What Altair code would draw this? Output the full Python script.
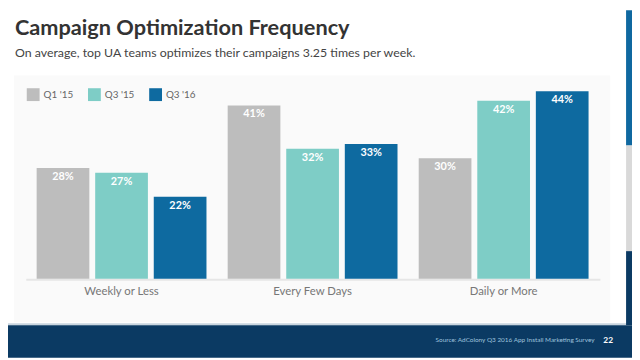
import altair as alt
import pandas as pd

categories = ["Weekly or Less", "Every Few Days", "Daily or More"]
series = ["Q1 '15", "Q3 '15", "Q3 '16"]
q1_15 = [28, 41, 30]
q3_15 = [27, 32, 42]
q3_16 = [22, 33, 44]
colors = ["#bdbdbd", "#7ecdc6", "#0e6aa0"]

title_text = "Campaign Optimization Frequency"
subtitle_text = "On average, top UA teams optimizes their campaigns 3.25 times per week."
source_text = "Source:  AdColony Q3 2016 App Install Marketing Survey"
page_text = "22"

rows = []
for s, vals in zip(series, [q1_15, q3_15, q3_16]):
    for c, v in zip(categories, vals):
        rows.append({"category": c, "series": s, "value": v, "label": f"{v}%"})
df = pd.DataFrame(rows)
cat_df = pd.DataFrame({"category": categories})

W, H = 632, 352
FONT = "Lato"

one = alt.Data(values=[{"k": 1}])


def rect(x, x2, y, y2, color):
    return alt.Chart(one).mark_rect(color=color).encode(
        x=alt.value(x), x2=alt.value(x2), y=alt.value(y), y2=alt.value(y2)
    )


def label(text, x, y, size, color, weight="normal", align="left", baseline="alphabetic"):
    return alt.Chart(one).mark_text(
        text=text, font=FONT, fontSize=size, color=color, fontWeight=weight,
        align=align, baseline=baseline
    ).encode(x=alt.value(x), y=alt.value(y))


xscale = alt.Scale(domain=categories, range=[29, 588], paddingInner=0.111, paddingOuter=0)
xoff = alt.Scale(domain=series, paddingInner=0.1, paddingOuter=0)
yscale = alt.Scale(domain=[4.9, 44], range=[272, 82], zero=False, nice=False)

bars = alt.Chart(df).mark_bar().encode(
    x=alt.X("category:N", scale=xscale, sort=categories, axis=None),
    xOffset=alt.XOffset("series:N", scale=xoff, sort=series),
    y=alt.Y("value:Q", scale=yscale, axis=None),
    y2=alt.datum(4.9),
    color=alt.Color(
        "series:N",
        scale=alt.Scale(domain=series, range=colors),
        legend=alt.Legend(
            orient="none", legendX=19, legendY=79, direction="horizontal",
            title=None, symbolType="square", symbolSize=169, symbolStrokeWidth=0,
            labelFont=FONT, labelFontSize=10, labelColor="#666666", labelOffset=4,
            columnPadding=14, padding=0,
        ),
    ),
)

vlabels = alt.Chart(df).mark_text(
    font=FONT, fontSize=11, fontWeight="bold", color="white", baseline="middle", dy=9
).encode(
    x=alt.X("category:N", scale=xscale, sort=categories, axis=None),
    xOffset=alt.XOffset("series:N", scale=xoff, sort=series),
    y=alt.Y("value:Q", scale=yscale, axis=None),
    text="label:N",
)

catlabels = alt.Chart(cat_df).mark_text(
    font=FONT, fontSize=11.5, color="#777777", baseline="middle"
).encode(
    x=alt.X("category:N", scale=xscale, sort=categories, axis=None),
    y=alt.value(285),
    text="category:N",
)

layers = [
    rect(6, 610, 66, 316, "#fafafa"),
    alt.Chart(one).mark_rule(color="#e6e6e6", strokeWidth=2).encode(
        x=alt.value(18.5), x2=alt.value(600), y=alt.value(273)
    ),
    bars,
    vlabels,
    catlabels,
    rect(0, W, 317, 319, "#c9d5df"),
    rect(0, W, 319, H, "#0b3a63"),
    rect(626, W, 0, 137, "#0f68a0"),
    rect(626, W, 137, 244, "#d9d9d9"),
    rect(626, W, 244, 319, "#0b3a63"),
    label(title_text, 7, 25, 22, "#333333", weight="bold"),
    label(subtitle_text, 7, 47, 12.5, "#444444"),
    label(source_text, 594, 334, 6.5, "#9fc3de", baseline="middle", align="right"),
    label(page_text, 603, 334, 8.5, "#ffffff", weight="bold", baseline="middle"),
]

chart = alt.layer(*layers).properties(
    width=W, height=H, autosize=alt.AutoSizeParams(type="none"), padding=0,
    background="white",
).configure_view(stroke=None)

chart.save("out.html", embed_options={"renderer": "svg", "actions": False})
